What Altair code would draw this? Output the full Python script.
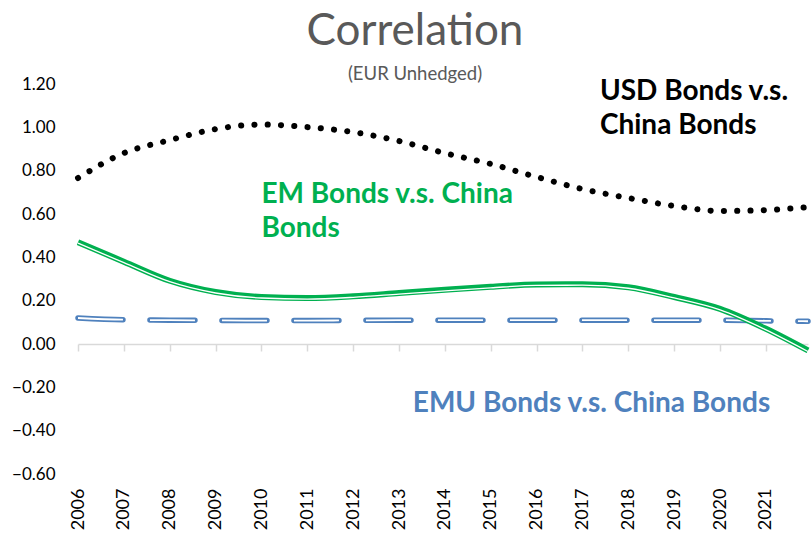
import altair as alt
import pandas as pd

# Yearly readings of the three correlation trend curves (last point = end of 2021)
years = [2006, 2007, 2008, 2009, 2010, 2011, 2012, 2013, 2014, 2015,
         2016, 2017, 2018, 2019, 2020, 2021, 2021.917]
usd_china = [0.766, 0.881, 0.941, 0.992, 1.013, 1.001, 0.978, 0.937, 0.881, 0.831,
             0.771, 0.715, 0.674, 0.637, 0.614, 0.618, 0.632]
em_china = [0.470, 0.380, 0.292, 0.240, 0.217, 0.212, 0.220, 0.235, 0.250, 0.264,
            0.275, 0.276, 0.262, 0.217, 0.162, 0.070, -0.030]
emu_china = [0.120, 0.112, 0.110, 0.109, 0.108, 0.108, 0.109, 0.110, 0.110, 0.110,
             0.110, 0.110, 0.110, 0.110, 0.110, 0.107, 0.105]

tick_years = list(range(2006, 2022))
y_ticks = [-0.6, -0.4, -0.2, 0.0, 0.2, 0.4, 0.6, 0.8, 1.0, 1.2]

# Series labels placed in data coordinates
label_text = ["USD Bonds v.s.\nChina Bonds", "EM Bonds v.s. China\nBonds", "EMU Bonds v.s. China Bonds"]
label_x = [2017.38, 2010.0, 2013.3]
label_y = [1.126, 0.651, -0.314]
label_color = ["#000000", "#00B050", "#4F81BD"]

BLUE = "#4F81BD"
GREEN = "#00B050"
FONT = "Lato"

df = pd.DataFrame({"year": years, "usd": usd_china, "em": em_china, "emu": emu_china})
labels = pd.DataFrame({"x": label_x, "y": label_y, "text": label_text, "color": label_color})

x_scale = alt.Scale(domain=[2006, 2021.917], nice=False, zero=False)
y_scale = alt.Scale(domain=[-0.6, 1.2], nice=False, zero=False)

label_axis = alt.Axis(
    orient="bottom", values=tick_years, format="d", labelAngle=270,
    labelFont=FONT, labelFontSize=18, labelColor="#000000", labelPadding=14,
    domain=False, ticks=False, grid=False, title=None, labelOverlap=False,
)
zero_axis = alt.Axis(
    orient="bottom", values=tick_years, labels=False, offset=-130,
    domain=True, domainColor="#D9D9D9", domainWidth=1.5,
    ticks=True, tickColor="#D9D9D9", tickWidth=1.5, tickSize=7,
    grid=False, title=None,
)
y_axis = alt.Axis(
    orient="left", values=y_ticks, format=".2f", labelFont=FONT, labelFontSize=17,
    labelColor="#000000", labelPadding=23, domain=False, ticks=False,
    grid=False, title=None,
)

base = alt.Chart(df)

emu_outer = base.mark_line(
    color=BLUE, strokeWidth=5.5, strokeDash=[45, 27], strokeCap="round", interpolate="monotone"
).encode(
    x=alt.X("year:Q", scale=x_scale, axis=label_axis),
    y=alt.Y("emu:Q", scale=y_scale, axis=y_axis),
)
emu_inner = base.mark_line(
    color="white", strokeWidth=1.8, strokeDash=[45, 27], strokeCap="butt", interpolate="monotone"
).encode(
    x=alt.X("year:Q", scale=x_scale, axis=None),
    y=alt.Y("emu:Q", scale=y_scale, axis=None),
)
em_outer = base.mark_line(
    color=GREEN, strokeWidth=6, interpolate="monotone"
).encode(
    x=alt.X("year:Q", scale=x_scale, axis=None),
    y=alt.Y("em:Q", scale=y_scale, axis=None),
)
em_inner = base.mark_line(
    color="white", strokeWidth=1.3, yOffset=1, interpolate="monotone"
).encode(
    x=alt.X("year:Q", scale=x_scale, axis=None),
    y=alt.Y("em:Q", scale=y_scale, axis=None),
)
usd_line = base.mark_line(
    color="#000000", strokeWidth=6, strokeDash=[0.1, 13.2], strokeCap="round", interpolate="monotone"
).encode(
    x=alt.X("year:Q", scale=x_scale, axis=zero_axis),
    y=alt.Y("usd:Q", scale=y_scale, axis=None),
)

text_layer = alt.Chart(labels).mark_text(
    align="left", baseline="alphabetic", font=FONT, fontSize=28,
    fontWeight="bold", lineBreak="\n", lineHeight=34,
).encode(
    x=alt.X("x:Q", scale=x_scale, axis=None),
    y=alt.Y("y:Q", scale=y_scale, axis=None),
    text="text:N",
    color=alt.Color("color:N", scale=None),
)

chart = alt.layer(
    emu_outer, emu_inner, em_outer, em_inner, usd_line, text_layer
).resolve_axis(x="independent", y="independent").properties(
    width=730,
    height=390,
    autosize=alt.AutoSizeParams(type="none"),
    padding={"left": 78, "top": 84, "right": 3, "bottom": 61},
    title=alt.TitleParams(
        text="Correlation", subtitle="(EUR Unhedged)", anchor="middle", dx=-28,
        font=FONT, fontSize=44, fontWeight="normal", color="#595959",
        subtitleFont=FONT, subtitleFontSize=18.5, subtitleColor="#595959",
        subtitlePadding=11, offset=-8,
    ),
).configure_view(stroke=None)

chart.save("out.html", embed_options={"renderer": "svg", "actions": False})
